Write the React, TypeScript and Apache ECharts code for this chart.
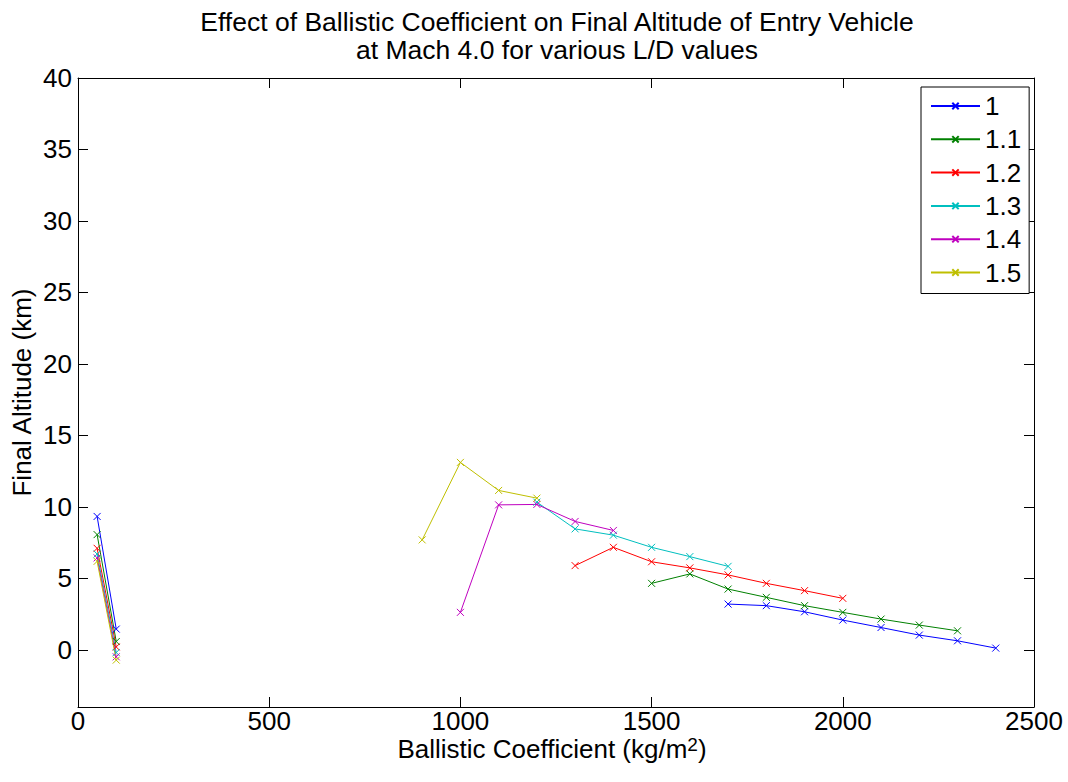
import React, { useEffect, useRef } from "react";
import * as echarts from "echarts";

// L/D ratios, one curve each
const liftToDrag = ["1", "1.1", "1.2", "1.3", "1.4", "1.5"];
const lineColors = ["#0000FF", "#008000", "#FF0000", "#00BFBF", "#BF00BF", "#BFBF00"];

// Ballistic coefficient (kg/m^2) and final altitude (km); null marks a break in the curve
const coeffLD10 = [50, 100, null, 1700, 1800, 1900, 2000, 2100, 2200, 2300, 2400];
const altLD10 = [9.33, 1.45, null, 3.2, 3.09, 2.66, 2.08, 1.56, 1.03, 0.63, 0.12];

const coeffLD11 = [50, 100, null, 1500, 1600, 1700, 1800, 1900, 2000, 2100, 2200, 2300];
const altLD11 = [8.06, 0.58, null, 4.65, 5.31, 4.25, 3.67, 3.09, 2.62, 2.15, 1.73, 1.33];

const coeffLD12 = [50, 100, null, 1300, 1400, 1500, 1600, 1700, 1800, 1900, 2000];
const altLD12 = [7.1, 0.2, null, 5.89, 7.17, 6.16, 5.73, 5.24, 4.65, 4.14, 3.6];

const coeffLD13 = [50, 100, null, 1200, 1300, 1400, 1500, 1600, 1700];
const altLD13 = [6.7, -0.19, null, 10.33, 8.46, 8.02, 7.17, 6.52, 5.84];

const coeffLD14 = [50, 100, null, 1000, 1100, 1200, 1300, 1400];
const altLD14 = [6.43, -0.49, null, 2.62, 10.14, 10.17, 8.98, 8.35];

const coeffLD15 = [50, 100, null, 900, 1000, 1100, 1200];
const altLD15 = [6.19, -0.72, null, 7.69, 13.11, 11.15, 10.61];

const coeffSets = [coeffLD10, coeffLD11, coeffLD12, coeffLD13, coeffLD14, coeffLD15];
const altSets = [altLD10, altLD11, altLD12, altLD13, altLD14, altLD15];

const xTicks = [0, 500, 1000, 1500, 2000, 2500];
const yTicks = [0, 5, 10, 15, 20, 25, 30, 35, 40];

const FONT = "'Liberation Sans', Arial, Helvetica, sans-serif";
const CROSS = "path://M0,0L10,10M10,0L0,10";

export default function App() {
  const ref = useRef<HTMLDivElement>(null);

  useEffect(() => {
    if (!ref.current) return;
    const chart = echarts.init(ref.current, null, { renderer: "svg" });

    const series = liftToDrag.map((name, i) => ({
      name,
      type: "line",
      xAxisIndex: 0,
      yAxisIndex: 0,
      connectNulls: false,
      symbol: CROSS,
      symbolSize: 7,
      showSymbol: true,
      lineStyle: { color: lineColors[i], width: 1 },
      itemStyle: { color: lineColors[i], borderColor: lineColors[i], borderWidth: 1 },
      data: coeffSets[i].map((x, k) => {
        const y = altSets[i][k];
        return x === null || y === null ? ["-", "-"] : [x, y];
      }),
    }));

    const tickInside = (values: number[]) => ({
      show: true,
      inside: true,
      length: 10,
      customValues: values,
      lineStyle: { color: "#000", width: 1 },
    });

    chart.setOption({
      animation: false,
      backgroundColor: "#fff",
      textStyle: { fontFamily: FONT },
      title: {
        text: "Effect of Ballistic Coefficient on Final Altitude of Entry Vehicle\nat Mach 4.0 for various L/D values",
        left: 552,
        top: 3,
        textAlign: "center",
        textStyle: {
          fontFamily: FONT,
          fontSize: 26.5,
          fontWeight: "normal",
          color: "#000",
          lineHeight: 28,
        },
      },
      // x-axis title with a superscript exponent
      graphic: [
        {
          type: "text",
          x: 552,
          y: 749,
          style: {
            text: "Ballistic Coefficient (kg/m{sup|2})",
            x: 0,
            y: 0,
            align: "center",
            verticalAlign: "middle",
            fontFamily: FONT,
            fontSize: 26,
            lineHeight: 28,
            fill: "#000",
            rich: {
              sup: {
                fontFamily: FONT,
                fontSize: 19,
                lineHeight: 28,
                fill: "#000",
                verticalAlign: "top",
                padding: [0, 0, 14, 0],
              },
            },
          },
        },
      ],
      grid: { left: 78, right: 34, top: 78, bottom: 75, containLabel: false },
      legend: {
        data: liftToDrag,
        orient: "vertical",
        left: 921,
        top: 87,
        padding: [6, 8, 8, 9],
        itemWidth: 49,
        itemHeight: 8,
        itemGap: 7.3,
        borderColor: "#000",
        borderWidth: 1,
        backgroundColor: "#fff",
        textStyle: { fontFamily: FONT, fontSize: 26, color: "#000", lineHeight: 26 },
      },
      xAxis: [
        {
          type: "value",
          position: "bottom",
          min: 0,
          max: 2500,
          interval: 500,
          axisLine: { show: true, onZero: false, lineStyle: { color: "#000", width: 1 } },
          axisTick: tickInside(xTicks),
          axisLabel: {
            show: true,
            margin: 1,
            customValues: xTicks,
            formatter: (v: number) => String(v),
            fontFamily: FONT,
            fontSize: 26,
            color: "#000",
          },
          splitLine: { show: false },
        },
        {
          type: "value",
          position: "top",
          min: 0,
          max: 2500,
          interval: 500,
          axisLine: { show: true, onZero: false, lineStyle: { color: "#000", width: 1 } },
          axisTick: tickInside(xTicks),
          axisLabel: { show: false },
          splitLine: { show: false },
        },
      ],
      yAxis: [
        {
          type: "value",
          position: "left",
          min: -4,
          max: 40,
          name: "Final Altitude (km)",
          nameLocation: "middle",
          nameGap: 43,
          nameMoveOverlap: false,
          nameTextStyle: { fontFamily: FONT, fontSize: 26, color: "#000" },
          axisLine: { show: true, onZero: false, lineStyle: { color: "#000", width: 1 } },
          axisTick: tickInside(yTicks),
          axisLabel: {
            show: true,
            margin: 6,
            customValues: yTicks,
            formatter: (v: number) => String(v),
            fontFamily: FONT,
            fontSize: 26,
            color: "#000",
          },
          splitLine: { show: false },
        },
        {
          type: "value",
          position: "right",
          min: -4,
          max: 40,
          axisLine: { show: true, onZero: false, lineStyle: { color: "#000", width: 1 } },
          axisTick: tickInside(yTicks),
          axisLabel: { show: false },
          splitLine: { show: false },
        },
      ],
      series,
    });

    return () => chart.dispose();
  }, []);

  return (
    <div
      ref={ref}
      style={{ position: "absolute", left: 0, top: 0, width: 1068, height: 782, background: "#fff" }}
    />
  );
}
